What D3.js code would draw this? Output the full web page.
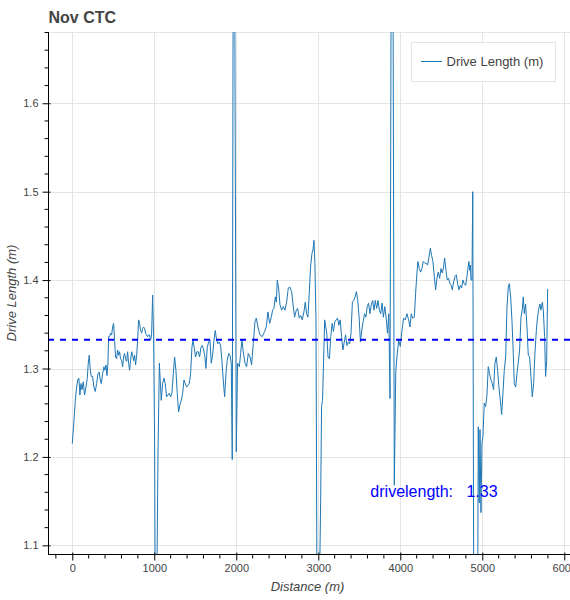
<!DOCTYPE html>
<html>
<head>
<meta charset="utf-8">
<script src="https://cdn.jsdelivr.net/npm/d3@7"></script>
<style>
  html, body { margin: 0; padding: 0; background: #fff; }
  svg { display: block; font-family: "Liberation Sans", Arial, Helvetica, sans-serif; }
</style>
</head>
<body>
<svg id="chart" width="570" height="600"></svg>
<script>
// ---- data ----
const title = "Nov CTC";
const seriesName = "Drive Length (m)";
const xLabel = "Distance (m)";
const yLabel = "Drive Length (m)";
const meanValue = 1.3325;
const meanText = "drivelength:   1.33";
const meanTextPos = [3635, 1.155];
const xTicks = [0, 1000, 2000, 3000, 4000, 5000, 6000];
const yTicks = [1.1, 1.2, 1.3, 1.4, 1.5, 1.6];
const xDomain = [-296, 6094];
const yDomain = [1.0902, 1.6806];

const distance = [
  0,20,37,53,69,81,93,106,118,134,150,167,183,195,207,220,232,248,264,280,297,313,329,341,354,370,386,398,411,423,435,443,455,467,480,492,504,516,528,541,553,565,577,589,602,614,626,638,650,663,675,687,699,711,724,736,748,760,772,785,797,809,821,833,846,858,870,882,894,906,919,931,943,955,967,980,992,
  1004,1012,1028,1045,1062,1085,1102,1118,1134,1150,1167,1183,1199,1215,1232,1248,1264,1280,1297,1313,1329,1346,1362,1378,1394,1411,1427,1443,1459,1472,1488,1504,1520,1537,1553,1569,1585,1602,1618,1630,1646,1663,1679,1695,1711,1728,1744,1760,1776,1793,1809,1825,1841,1858,1874,1890,1907,1923,1939,1951,1962,1980,
  2000,2016,2037,2053,2069,2085,2106,2126,2146,2167,2187,2207,2228,2244,2264,2289,2317,2346,2366,2386,2407,2427,2443,2459,2476,2488,2500,2516,2533,2553,2573,2593,2614,2634,2654,2675,2695,2711,2732,2748,2768,2785,2805,2825,2841,2858,2874,2890,2906,2923,2935,2947,2959,2972,2985,
  3010,3029,3040,3052,3078,3103,3119,3136,3152,3169,3185,3202,3218,3235,3251,3267,3284,3300,3317,3333,3350,3366,3383,3399,3416,3432,3449,3465,3481,3498,3514,3531,3547,3564,3580,3597,3613,3630,3646,3663,3679,3695,3712,3728,3745,3761,3778,3794,3811,3827,3844,3860,3875,3888,3912,3927,3945,3959,3980,
  4000,4020,4041,4061,4081,4102,4118,4134,4150,4171,4187,4203,4215,4232,4248,4264,4280,4301,4317,4333,4350,4366,4382,4398,4415,4431,4447,4463,4480,4496,4512,4528,4541,4557,4573,4589,4606,4622,4634,4650,4667,4683,4699,4715,4732,4748,4764,4780,4797,4813,4825,4837,4846,4854,4862,4874,4884,4896,4925,4943,4951,4963,4972,4984,4996,
  5008,5024,5041,5057,5073,5089,5106,5122,5138,5154,5171,5187,5203,5220,5236,5252,5268,5285,5301,5317,5329,5346,5362,5378,5390,5407,5423,5439,5455,5472,5488,5500,5512,5528,5545,5561,5577,5593,5610,5626,5642,5659,5671,5687,5703,5715,5732,5744,5760,5772,5785,5797
];
const driveLength = [
  1.215,1.240,1.264,1.279,1.288,1.289,1.270,1.283,1.276,1.285,1.270,1.279,1.289,1.306,1.315,1.298,1.291,1.291,1.279,1.274,1.283,1.294,1.296,1.287,1.283,1.294,1.302,1.298,1.304,1.292,1.306,1.336,1.336,1.340,1.338,1.347,1.351,1.332,1.313,1.311,1.321,1.315,1.319,1.311,1.309,1.302,1.313,1.317,1.311,1.308,1.319,1.306,1.298,1.309,1.319,1.315,1.309,1.315,1.304,1.315,1.332,1.355,1.351,1.343,1.340,1.345,1.347,1.345,1.340,1.338,1.336,1.338,1.338,1.332,1.338,1.383,1.336,
  1.219,1.020,1.020,1.200,1.306,1.264,1.283,1.289,1.283,1.268,1.270,1.272,1.268,1.272,1.294,1.313,1.298,1.272,1.251,1.259,1.264,1.272,1.287,1.283,1.279,1.281,1.283,1.294,1.324,1.332,1.323,1.313,1.319,1.319,1.313,1.324,1.326,1.321,1.313,1.300,1.324,1.330,1.332,1.306,1.315,1.332,1.343,1.332,1.328,1.330,1.326,1.309,1.287,1.268,1.294,1.309,1.317,1.315,1.306,1.197,1.750,1.750,
  1.206,1.306,1.302,1.317,1.332,1.319,1.306,1.302,1.317,1.313,1.304,1.328,1.353,1.357,1.347,1.338,1.336,1.342,1.347,1.364,1.351,1.358,1.366,1.368,1.381,1.375,1.400,1.391,1.372,1.366,1.370,1.366,1.375,1.391,1.392,1.387,1.370,1.358,1.366,1.368,1.357,1.360,1.355,1.364,1.375,1.362,1.358,1.385,1.415,1.430,1.434,1.445,1.419,1.355,1.020,
  1.020,1.151,1.257,1.264,1.355,1.340,1.313,1.311,1.336,1.351,1.342,1.353,1.355,1.357,1.349,1.355,1.336,1.321,1.330,1.338,1.326,1.330,1.328,1.340,1.375,1.377,1.381,1.387,1.377,1.358,1.330,1.343,1.353,1.362,1.358,1.370,1.374,1.362,1.372,1.377,1.366,1.377,1.368,1.377,1.366,1.362,1.374,1.358,1.370,1.358,1.340,1.362,1.266,1.720,1.720,1.168,1.296,1.313,1.332,
  1.325,1.343,1.357,1.355,1.362,1.355,1.347,1.362,1.357,1.358,1.385,1.408,1.421,1.413,1.409,1.413,1.421,1.419,1.419,1.417,1.426,1.436,1.428,1.421,1.404,1.389,1.402,1.409,1.402,1.413,1.408,1.415,1.425,1.411,1.400,1.402,1.396,1.394,1.389,1.398,1.404,1.406,1.396,1.389,1.394,1.391,1.400,1.396,1.394,1.404,1.413,1.421,1.411,1.417,1.400,1.400,1.500,1.020,1.020,1.020,1.234,1.148,1.231,1.137,1.216,
  1.223,1.261,1.257,1.270,1.302,1.294,1.287,1.283,1.276,1.306,1.313,1.298,1.279,1.264,1.248,1.272,1.298,1.313,1.369,1.392,1.396,1.381,1.354,1.317,1.283,1.279,1.294,1.307,1.321,1.358,1.367,1.381,1.362,1.373,1.347,1.315,1.313,1.291,1.268,1.283,1.317,1.343,1.356,1.367,1.373,1.366,1.375,1.366,1.336,1.291,1.309,1.390
];

// ---- layout ----
const W = 570, H = 600;
const frame = { left: 48, top: 32, right: 572, bottom: 554 };
const svg = d3.select("#chart");

const x = d3.scaleLinear().domain(xDomain).range([frame.left, frame.right]);
const y = d3.scaleLinear().domain(yDomain).range([frame.bottom, frame.top]);

const defs = svg.append("defs");
defs.append("clipPath").attr("id", "clip")
  .append("rect")
  .attr("x", frame.left).attr("y", frame.top)
  .attr("width", frame.right - frame.left).attr("height", frame.bottom - frame.top);

// grid
const grid = svg.append("g");
grid.selectAll("line.gx").data(xTicks).join("line")
  .attr("x1", d => Math.round(x(d)) + 0.5).attr("x2", d => Math.round(x(d)) + 0.5)
  .attr("y1", frame.top).attr("y2", frame.bottom)
  .attr("stroke", "#e5e5e5").attr("stroke-width", 1);
grid.selectAll("line.gy").data(yTicks).join("line")
  .attr("y1", d => Math.round(y(d)) + 0.5).attr("y2", d => Math.round(y(d)) + 0.5)
  .attr("x1", frame.left).attr("x2", frame.right)
  .attr("stroke", "#e5e5e5").attr("stroke-width", 1);

// outline
svg.append("rect")
  .attr("x", frame.left + 0.5).attr("y", frame.top + 0.5)
  .attr("width", frame.right - frame.left).attr("height", frame.bottom - frame.top)
  .attr("fill", "none").attr("stroke", "#e5e5e5");

// data line
const pts = distance.map((d, i) => [d, driveLength[i]]);
const line = d3.line().x(d => x(d[0])).y(d => y(d[1]));
const plot = svg.append("g").attr("clip-path", "url(#clip)");
plot.append("path").datum(pts)
  .attr("d", line)
  .attr("fill", "none")
  .attr("stroke", "#1f77b4")
  .attr("stroke-width", 1)
  .attr("stroke-linejoin", "round");

// mean line
plot.append("line")
  .attr("x1", frame.left).attr("x2", frame.right)
  .attr("y1", y(meanValue)).attr("y2", y(meanValue))
  .attr("stroke", "blue").attr("stroke-width", 2)
  .attr("stroke-dasharray", "6,6");

// axes
const xMinor = d3.range(-200, 6001, 200).filter(v => v % 1000 !== 0);
const yMinor = d3.range(1.10, 1.681, 0.02).map(v => +v.toFixed(2)).filter(v => Math.abs(v * 10 - Math.round(v * 10)) > 1e-6);

const xAxis = svg.append("g")
  .attr("transform", `translate(0,${frame.bottom + 0.5})`)
  .call(d3.axisBottom(x).tickValues(xTicks).tickFormat(d3.format("d")).tickSizeInner(6).tickSizeOuter(0).tickPadding(4));
xAxis.select(".domain").attr("d", `M${frame.left},0H${frame.right}`).attr("stroke", "#000");
xAxis.selectAll(".tick line").attr("stroke", "#000").attr("y1", -2);
xAxis.selectAll(".tick text").attr("fill", "#444").style("font-size", "11px")
  .style("font-family", "'Liberation Sans', Arial, sans-serif");
xAxis.selectAll(".minor").data(xMinor).join("line")
  .attr("class", "minor")
  .attr("x1", d => x(d)).attr("x2", d => x(d))
  .attr("y1", 0).attr("y2", 4).attr("stroke", "#000");

const yAxis = svg.append("g")
  .attr("transform", `translate(${frame.left + 0.5},0)`)
  .call(d3.axisLeft(y).tickValues(yTicks).tickFormat(d3.format(".1f")).tickSizeInner(6).tickSizeOuter(0).tickPadding(4));
yAxis.select(".domain").attr("d", `M0,${frame.top}V${frame.bottom}`).attr("stroke", "#000");
yAxis.selectAll(".tick line").attr("stroke", "#000").attr("x1", 2);
yAxis.selectAll(".tick text").attr("fill", "#444").style("font-size", "11px")
  .style("font-family", "'Liberation Sans', Arial, sans-serif");
yAxis.selectAll(".minor").data(yMinor).join("line")
  .attr("class", "minor")
  .attr("y1", d => y(d)).attr("y2", d => y(d))
  .attr("x1", 0).attr("x2", -4).attr("stroke", "#000");

// axis labels
svg.append("text")
  .attr("x", 307.5).attr("y", 591)
  .attr("text-anchor", "middle")
  .attr("fill", "#444").style("font-size", "13px").style("font-style", "italic")
  .text(xLabel);
svg.append("text")
  .attr("transform", `translate(16,${(frame.top + frame.bottom) / 2}) rotate(-90)`)
  .attr("text-anchor", "middle")
  .attr("fill", "#444").style("font-size", "13px").style("font-style", "italic")
  .text(yLabel);

// title
svg.append("text")
  .attr("x", 48.5).attr("y", 23)
  .attr("fill", "#444").style("font-size", "16px").style("font-weight", "bold")
  .text(title);

// mean label
svg.append("text")
  .attr("x", x(meanTextPos[0])).attr("y", y(meanTextPos[1]))
  .attr("fill", "blue").style("font-size", "16px").style("white-space", "pre")
  .attr("xml:space", "preserve")
  .text(meanText);

// legend
const lg = svg.append("g");
lg.append("rect")
  .attr("x", 411.5).attr("y", 42.5).attr("width", 144).attr("height", 39)
  .attr("fill", "#fff").attr("fill-opacity", 0.95)
  .attr("stroke", "#e5e5e5");
lg.append("line")
  .attr("x1", 421).attr("x2", 442).attr("y1", 61.5).attr("y2", 61.5)
  .attr("stroke", "#1f77b4").attr("stroke-width", 1);
lg.append("text")
  .attr("x", 446.5).attr("y", 66)
  .attr("fill", "#444").style("font-size", "13px")
  .text(seriesName);
</script>
</body>
</html>
